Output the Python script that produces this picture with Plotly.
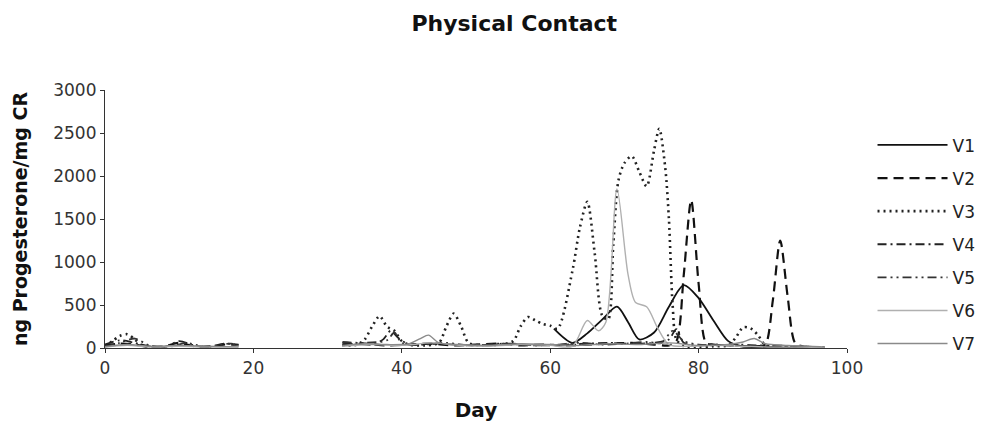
import plotly.graph_objects as go

# ---- data ----
days_v1 = [60.5, 63, 65, 67, 69, 70.5, 72, 74, 76, 78, 80, 82, 84, 86, 88, 90, 92, 94, 96]
v1 = [225, 60, 170, 330, 480, 300, 100, 180, 480, 730, 580, 320, 80, 20, 10, 10, 5, 5, 0]

days_v2 = [0, 2, 4, 6, 8, 10, 12, 14, 16, 18, None,
           32, 35, 38, 41, 44, 47, 50, 53, 56, 59, 62, 65, 68, 71, 74, 76,
           77, 78, 79, 80, 81, 82, 84, 86, 88, 89, 90, 91, 92, 93, 94, 96]
v2 = [30, 50, 40, 10, 20, 60, 20, 10, 40, 30, None,
      40, 50, 30, 40, 50, 30, 40, 50, 30, 40, 30, 40, 50, 60, 40, 30,
      80, 850, 1720, 750, 60, 40, 30, 20, 20, 40, 550, 1250, 600, 60, 20, 10]

days_v3 = [0, 1, 2, 3, 4, 5, 6, 8, None,
           32, 34, 35, 36, 37, 38, 39, 40, 41, 43, 45, 46, 47, 48, 49, 51, 53, 55,
           56, 57, 58, 59, 60, 61, 63, 64, 65, 66, 67, 67.8, 68.5, 69.2, 70, 71, 72,
           73, 74, 74.7, 75.5, 76, 76.5, 77, 78, 80, 82, 84, 85, 86, 87, 88, 89, 90,
           92, 94, 96]
v3 = [20, 80, 140, 160, 100, 30, 10, 5, None,
      30, 40, 100, 250, 370, 250, 200, 80, 40, 30, 60, 250, 400, 250, 60, 30, 40, 80,
      250, 360, 320, 280, 260, 225, 900, 1400, 1700, 1100, 380, 330, 1200, 1950, 2150, 2230, 2050,
      1880, 2300, 2550, 2100, 1500, 500, 100, 20, 10, 20, 30, 120, 240, 230, 150, 30, 10,
      10, 5, 5]

days_v4 = [0, 2, 4, 6, 8, 10, 12, 14, 16, 18, None,
           32, 34, 36, 37.5, 38.5, 39.5, 41, 44, 47, 50, 53, 56, 59, 62, 65, 68, 71,
           74, 76, 77, 78, 80, 82, 84, 87, 90, 93, 96]
v4 = [40, 90, 60, 20, 10, 80, 30, 10, 50, 40, None,
      60, 50, 40, 100, 200, 120, 40, 50, 40, 30, 50, 40, 30, 40, 50, 60, 50,
      60, 100, 220, 60, 30, 40, 30, 20, 30, 20, 10]

days_v5 = [0, 2, 4, 6, 9, 11, 13, 15, 17, 18, None,
           32, 35, 38, 39, 40, 43, 46, 49, 52, 55, 58, 61, 64, 67, 70, 73, 75,
           76.5, 78, 80, 82, 85, 88, 91, 94, 97]
v5 = [20, 60, 110, 30, 20, 60, 20, 30, 50, 20, None,
      70, 60, 90, 180, 60, 40, 60, 30, 40, 50, 30, 40, 60, 40, 50, 70, 60,
      200, 80, 40, 30, 40, 30, 20, 10, 10]

days_v6 = [0, 3, 6, 10, 14, 18, None,
           32, 36, 40, 44, 48, 52, 56, 60, 63, 65, 66.5, 67.5, 69, 70.5, 71.5, 73, 74.5, 76,
           79, 82, 86, 90, 94, 97]
v6 = [10, 30, 10, 20, 10, 20, None,
      20, 40, 30, 60, 30, 20, 40, 30, 20, 320, 200, 300, 1850, 850, 530, 480, 230, 40,
      20, 30, 20, 10, 10, 5]

days_v7 = [0, 3, 6, 10, 14, 18, None,
           32, 35, 38, 41, 42.5, 43.6, 45, 48, 52, 56, 60, 64, 68, 72, 76, 80, 84,
           86, 87.5, 89, 92, 95, 97]
v7 = [15, 40, 20, 30, 20, 10, None,
      30, 50, 40, 50, 110, 150, 60, 40, 30, 50, 40, 30, 50, 40, 60, 30, 40,
      70, 110, 50, 30, 20, 10]

series_names = ["V1", "V2", "V3", "V4", "V5", "V6", "V7"]
x_ticks = [0, 20, 40, 60, 80, 100]
y_ticks = [0, 500, 1000, 1500, 2000, 2500, 3000]

styles = [
    dict(color="#111111", width=1.8, dash="solid"),
    dict(color="#111111", width=2.2, dash="10px,6px"),
    dict(color="#222222", width=2.6, dash="2px,4px"),
    dict(color="#222222", width=1.8, dash="9px,4px,2px,4px"),
    dict(color="#333333", width=1.8, dash="9px,4px,2px,4px,2px,4px"),
    dict(color="#b0b0b0", width=1.4, dash="solid"),
    dict(color="#8a8a8a", width=1.4, dash="solid"),
]

xs = [days_v1, days_v2, days_v3, days_v4, days_v5, days_v6, days_v7]
ys = [v1, v2, v3, v4, v5, v6, v7]

fig = go.Figure()
for name, x, y, st in zip(series_names, xs, ys, styles):
    fig.add_trace(go.Scatter(x=x, y=y, name=name, mode="lines", legendgroup=name,
                             line=dict(shape="spline", smoothing=0.8, **st),
                             connectgaps=False))

font = "DejaVu Sans, Liberation Sans, Arial, sans-serif"
fig.update_layout(
    width=983, height=427,
    margin=dict(l=97, r=143, t=82, b=87),
    paper_bgcolor="white", plot_bgcolor="white",
    font=dict(family=font, size=17, color="#222"),
    title=dict(text="<b>Physical Contact</b>", x=0.515, xref="container", xanchor="center",
               y=0.965, yref="container", yanchor="middle",
               font=dict(family=font, size=22, color="#111")),
    legend=dict(x=1.033, y=0.855, xanchor="left", yanchor="top",
                font=dict(family=font, size=17, color="#222"),
                tracegroupgap=8, itemwidth=70, bgcolor="rgba(0,0,0,0)"),
    showlegend=True,
)
fig.update_xaxes(range=[0, 100], tickvals=x_ticks, showgrid=False, zeroline=False,
                 showline=True, linecolor="#333", linewidth=1.2, automargin=False,
                 ticks="outside", ticklen=4, tickcolor="#333", ticklabelstandoff=0,
                 tickfont=dict(family=font, size=17, color="#333"),
                 title=dict(text="<b>Day</b>", font=dict(family=font, size=20, color="#111"), standoff=26))
fig.update_yaxes(range=[0, 3000], tickvals=y_ticks, showgrid=False, zeroline=False,
                 showline=True, linecolor="#333", linewidth=1.2, automargin=False,
                 ticks="outside", ticklen=4, tickcolor="#333",
                 tickfont=dict(family=font, size=17, color="#333"),
                 title=dict(text="<b>ng Progesterone/mg CR</b>", font=dict(family=font, size=19, color="#111"), standoff=20))

fig.write_html("out.html")
